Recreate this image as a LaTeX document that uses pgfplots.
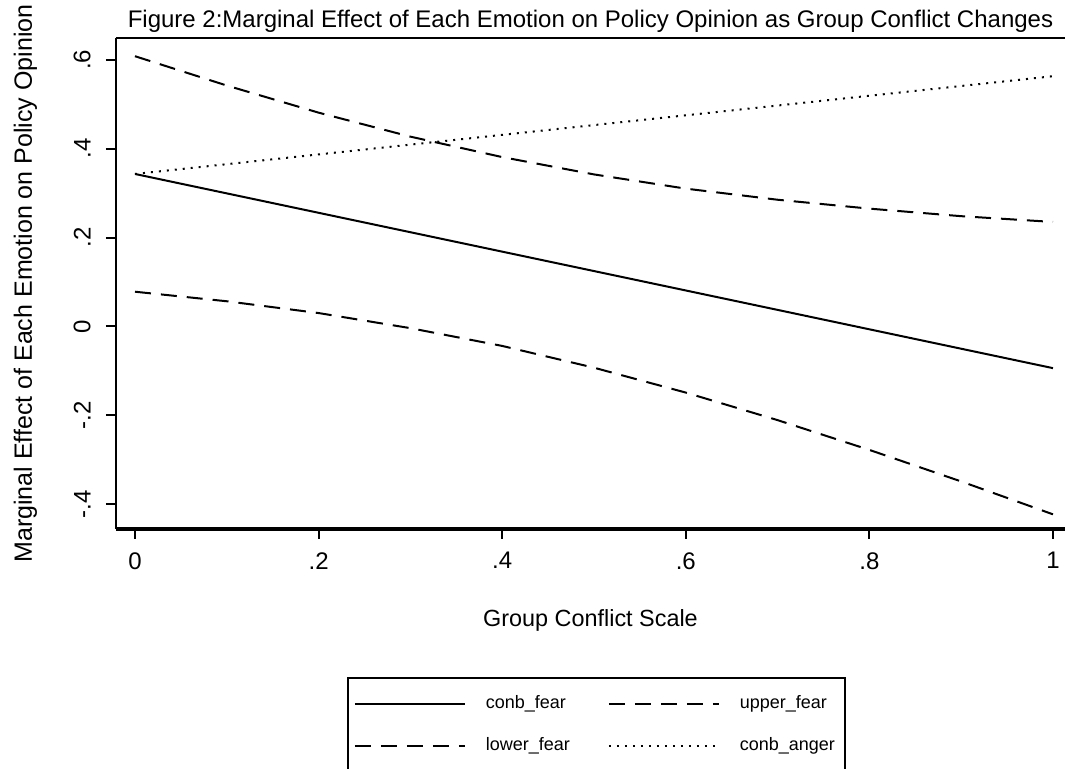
\documentclass[border=0pt]{standalone}
\usepackage{fontspec}
\setmainfont{Liberation Sans}
\usepackage{pgfplots}
\pgfplotsset{compat=1.18}

\begin{document}
\begin{tikzpicture}
\path[use as bounding box] (-58pt,-120pt) rectangle (474.5pt,264.5pt);
\begin{axis}[
  at={(0,0)}, anchor=south west,
  scale only axis,
  width=474.5pt, height=245.5pt,
  xmin=-0.0207, xmax=1.0131,
  ymin=-0.456, ymax=0.649,
  axis x line*=bottom, axis y line*=left,
  x axis line style={line width=1.6pt},
  y axis line style={line width=1.3pt},
  clip=false,
  tick align=outside,
  major tick length=5pt,
  tick style={line width=1pt, black},
  xtick={0,0.2,0.4,0.6,0.8,1},
  xticklabels={0,.2,.4,.6,.8,1},
  ytick={-0.4,-0.2,0,0.2,0.4,0.6},
  yticklabels={-.4,-.2,0,.2,.4,.6},
  ticklabel style={font=\fontsize{12}{14}\selectfont},
  xticklabel style={inner sep=0pt, anchor=north},
  yticklabel style={inner sep=0pt, rotate=90, anchor=south},
  xticklabel shift=6.5pt,
  yticklabel shift=7.5pt,
  title={Figure 2:Marginal Effect of Each Emotion on Policy Opinion as Group Conflict Changes},
  every axis title/.style={at={([yshift=5pt]axis description cs:0.5,1)}, anchor=base, inner sep=0pt, font=\fontsize{12}{14}\selectfont},
  xlabel={Group Conflict Scale},
  every axis x label/.style={at={([yshift=-49pt]axis description cs:0.5,0)}, anchor=base, inner sep=0pt, font=\fontsize{11.7}{14}\selectfont},
  ylabel={Marginal Effect of Each Emotion on Policy Opinion},
  every axis y label/.style={at={([xshift=-42pt]axis description cs:0,0.5)}, rotate=90, anchor=base, inner sep=0pt, font=\fontsize{12.5}{14}\selectfont},
  legend columns=2,
  legend cell align=left,
  legend image code/.code={\draw[#1] (0pt,0pt) -- (55pt,0pt);},
  legend style={
    at={(0.2434,-0.3014)}, anchor=north west,
    draw=black, line width=0.8pt,
    font=\fontsize{9}{10}\selectfont,
    inner xsep=3pt, inner ysep=7pt,
    row sep=9pt,
    /tikz/every odd column/.append style={column sep=8pt},
    /tikz/every even column/.append style={column sep=17pt},
  },
]
\addplot[black, line width=1pt] coordinates {
  (0,0.343) (0.1,0.2993) (0.2,0.2556) (0.3,0.2119) (0.4,0.1682) (0.5,0.1245)
  (0.6,0.0808) (0.7,0.0371) (0.8,-0.0066) (0.9,-0.0503) (1,-0.094)};
\addlegendentry{conb\_fear}
\addplot[black, line width=1pt, dash pattern=on 8pt off 5pt] coordinates {
  (0,0.608) (0.1,0.542) (0.2,0.481) (0.3,0.427) (0.4,0.381) (0.5,0.342)
  (0.6,0.310) (0.7,0.285) (0.8,0.265) (0.9,0.248) (1,0.235)};
\addlegendentry{upper\_fear}
\addplot[black, line width=1pt, dash pattern=on 8pt off 5pt] coordinates {
  (0,0.078) (0.1,0.0565) (0.2,0.030) (0.3,-0.004) (0.4,-0.044) (0.5,-0.093)
  (0.6,-0.149) (0.7,-0.211) (0.8,-0.278) (0.9,-0.349) (1,-0.423)};
\addlegendentry{lower\_fear}
\addplot[black, line width=1pt, dash pattern=on 1pt off 3pt] coordinates {
  (0,0.343) (0.1,0.365) (0.2,0.387) (0.3,0.409) (0.4,0.431) (0.5,0.453)
  (0.6,0.475) (0.7,0.497) (0.8,0.519) (0.9,0.541) (1,0.563)};
\addlegendentry{conb\_anger}
\draw[black, line width=1pt] (rel axis cs:0,1) -- (rel axis cs:1,1);
\end{axis}
\end{tikzpicture}
\end{document}
